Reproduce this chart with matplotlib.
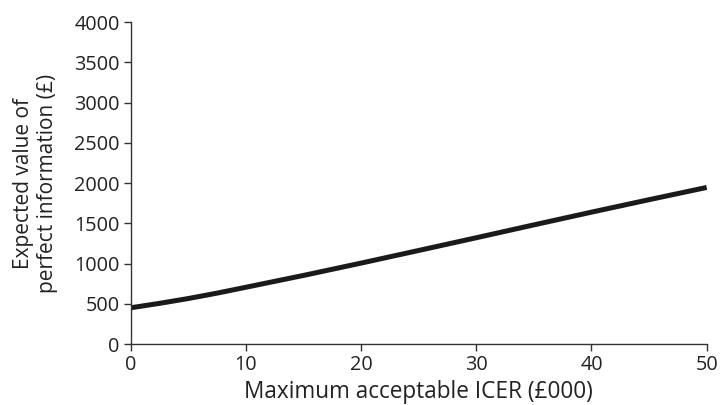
import matplotlib
matplotlib.use("Agg")
import matplotlib.pyplot as plt

icer = [0, 2.5, 5, 7.5, 10, 15, 20, 25, 30, 35, 40, 45, 50]
evpi = [450, 505, 565, 632, 705, 852, 1005, 1162, 1320, 1480, 1638, 1793, 1945]
xticks = [0, 10, 20, 30, 40, 50]
yticks = [0, 500, 1000, 1500, 2000, 2500, 3000, 3500, 4000]

plt.rcParams['font.family'] = ['Open Sans', 'DejaVu Sans']

fig = plt.figure(figsize=(7.2, 4.05), dpi=100)
ax = fig.add_axes([0.1815, 0.1506, 0.80, 0.795])
ax.plot(icer, evpi, color='#1a1a1a', lw=3.6, solid_capstyle='butt', solid_joinstyle='round')
ax.set_xlim(0, 50)
ax.set_ylim(0, 4000)
ax.set_xticks(xticks)
ax.set_yticks(yticks)
for s in ['top', 'right']:
    ax.spines[s].set_visible(False)
for s in ['left', 'bottom']:
    ax.spines[s].set_color('#333333')
    ax.spines[s].set_linewidth(1.0)
ax.tick_params(direction='out', length=5, width=1, colors='#333333', labelsize=14.3, labelcolor='#222222', pad=3)
ax.set_xlabel('Maximum acceptable ICER (£000)', fontsize=16.3, color='#222222', labelpad=3.5)
ax.set_ylabel('Expected value of\nperfect information (£)', fontsize=15, color='#222222', labelpad=11.5, linespacing=1.2)
fig.savefig('out.png', dpi=100)
